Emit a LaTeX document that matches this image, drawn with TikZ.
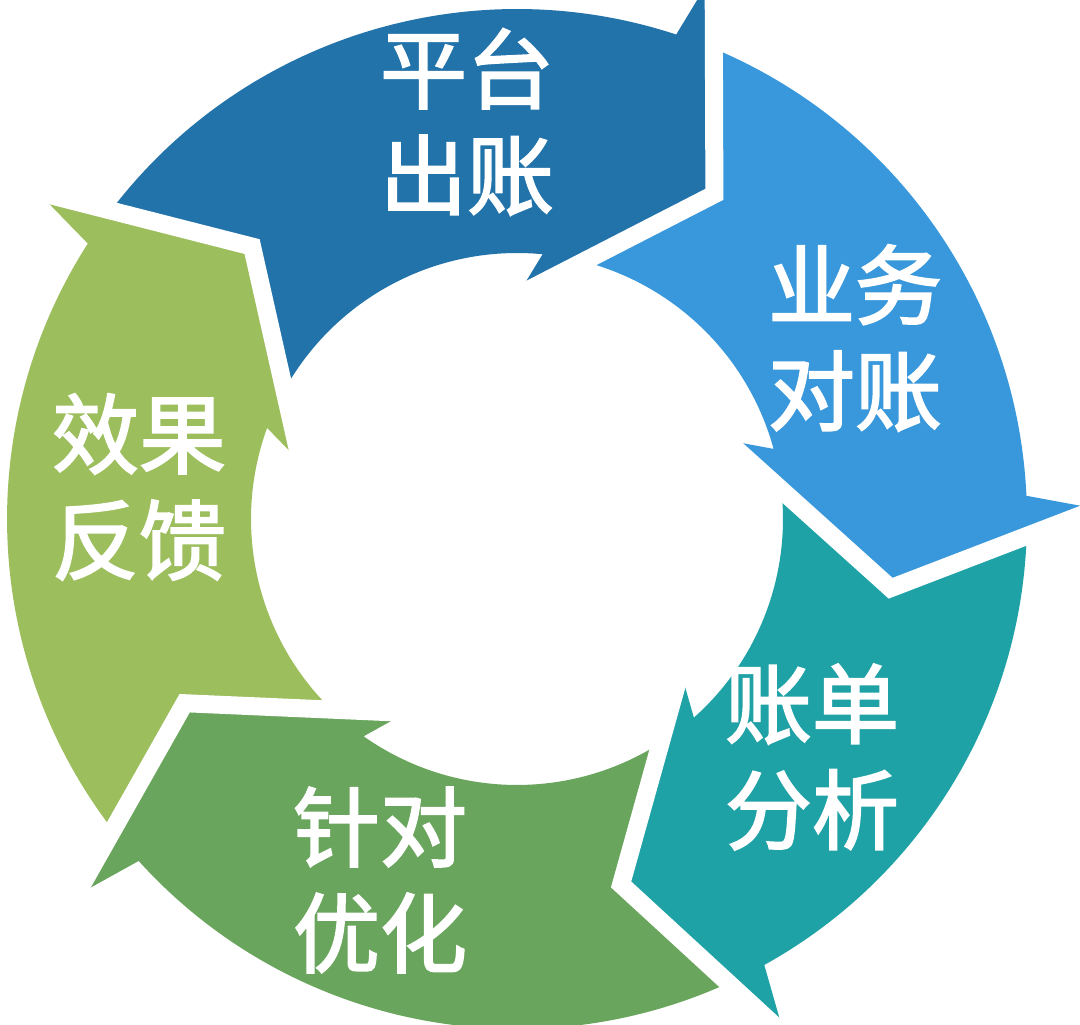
\documentclass[tikz,border=0pt]{standalone}
\usepackage{fontspec}
\usepackage{xcolor}
\usepackage{tikz}
\usetikzlibrary{positioning,calc}
\newfontfamily\cjk[BoldFont={Noto Sans CJK SC}, BoldFeatures={FakeBold=2.2}]{Noto Sans CJK SC}

\definecolor{stepA}{HTML}{2373AB}
\definecolor{stepB}{HTML}{3898DB}
\definecolor{stepC}{HTML}{1FA2A6}
\definecolor{stepD}{HTML}{6AA55D}
\definecolor{stepE}{HTML}{9CBE5C}

% one ring arrow: tip angle, span back to its tail, colour
\newcommand{\ringarrow}[3]{%
  \fill[#3, shift={(O)}, rotate=#1]
    ({#2+8.58}:510) arc[start angle={#2+8.58}, end angle=13.11, radius=510]
    -- (569,115.7) -- (380,0) -- (191,115.7)
    -- (25.78:266) arc[start angle=25.78, end angle={#2+16.76}, radius=266]
    -- (#2:380) -- cycle;}
% white gap along the head of a ring arrow
\newcommand{\ringgap}[1]{%
  \draw[gap, shift={(O)}, rotate=#1] (597,133) -- (380,0) -- (163,133);}

\begin{document}
\begin{tikzpicture}[
  x=1pt, y=1pt,
  gap/.style={draw=white, line width=18pt},
  label/.style={text=white, inner sep=0pt, align=center,
    font=\cjk\bfseries\fontsize{87}{106}\selectfont}
]
\useasboundingbox (0,0) rectangle (1080,1025);
\coordinate (O) at (517,506);

% Arrows of the cycle
\ringarrow{58.7}{75.5}{stepA}
\ringarrow{-10.5}{69.2}{stepB}
\ringarrow{-74.1}{63.6}{stepC}
\ringarrow{-151}{76.9}{stepD}
\ringarrow{134.2}{74.8}{stepE}

% Gaps between them
\ringgap{58.7}
\ringgap{-10.5}
\ringgap{-74.1}
\ringgap{-151}
\ringgap{134.2}

% Labels
\node[label] (bill) at (467,903) {平台\\出账};
\node[label] (check) at (855,687) {业务\\对账};
\node[label] (analyse) at (812,268) {账单\\分析};
\node[label] (tune) at (380,145) {针对\\优化};
\node[label] (feedback) at (139,538) {效果\\反馈};

\end{tikzpicture}
\end{document}
